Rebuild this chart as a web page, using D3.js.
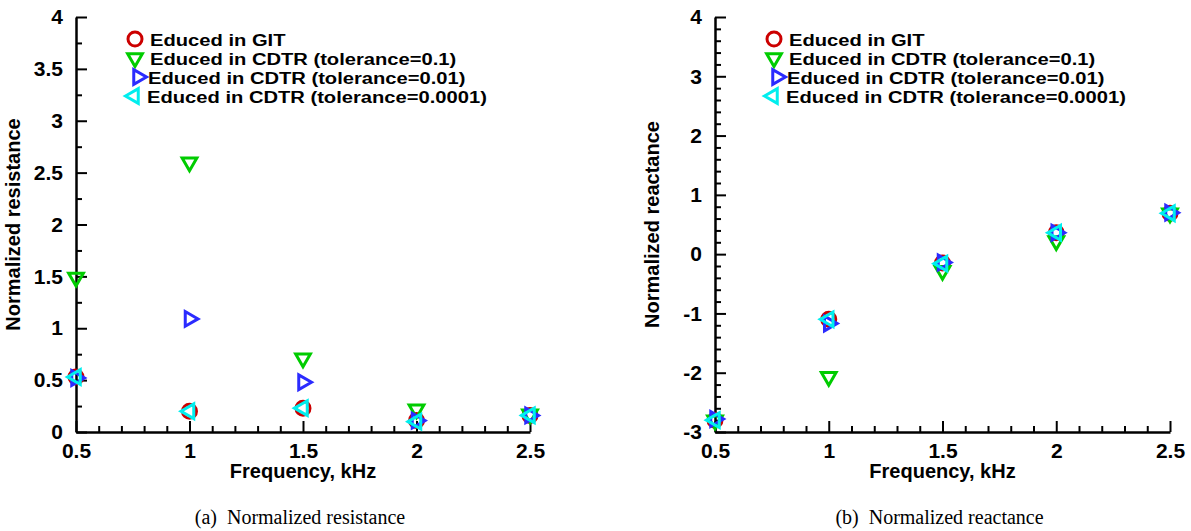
<!DOCTYPE html>
<html>
<head>
<meta charset="utf-8">
<script src="https://cdn.jsdelivr.net/npm/d3@7"></script>
<style>
  html, body { margin: 0; padding: 0; background: #fff; }
  svg { display: block; }
  .lbl { font-family: "Liberation Sans", Arial, sans-serif; font-weight: bold; font-size: 20px; fill: #000; }
  .tkl { font-family: "Liberation Sans", Arial, sans-serif; font-weight: bold; font-size: 21px; fill: #000; }
  .leg { font-family: "Liberation Sans", Arial, sans-serif; font-weight: bold; font-size: 16.8px; fill: #000; }
  .cap { font-family: "Liberation Serif", "Times New Roman", serif; font-size: 20px; fill: #000; white-space: pre; }
</style>
</head>
<body>
<svg id="chart" width="1191" height="531"></svg>
<script>
// ---- data ----
const freq = [0.5, 1.0, 1.5, 2.0, 2.5];
const resGIT      = [0.53, 0.20, 0.23, 0.11, 0.16];
const resTol1     = [1.49, 2.60, 0.71, 0.22, 0.17];
const resTol01    = [0.52, 1.09, 0.48, 0.11, 0.16];
const resTol0001  = [0.53, 0.20, 0.23, 0.10, 0.16];
const reactGIT     = [-2.80, -1.10, -0.15, 0.36, 0.69];
const reactTol1    = [-2.80, -2.07, -0.28, 0.22, 0.69];
const reactTol01   = [-2.78, -1.17, -0.14, 0.36, 0.70];
const reactTol0001 = [-2.80, -1.10, -0.16, 0.36, 0.69];
const seriesNames = ["Educed in GIT", "Educed in CDTR (tolerance=0.1)", "Educed in CDTR (tolerance=0.01)", "Educed in CDTR (tolerance=0.0001)"];
const xTicks = [0.5, 1, 1.5, 2, 2.5];
const xMinor = [0.6,0.7,0.8,0.9,1.1,1.2,1.3,1.4,1.6,1.7,1.8,1.9,2.1,2.2,2.3,2.4];
const yTicksRes = [0, 0.5, 1, 1.5, 2, 2.5, 3, 3.5, 4];
const yMinorRes = [0.25,0.75,1.25,1.75,2.25,2.75,3.25,3.75];
const yTicksReact = [-3, -2, -1, 0, 1, 2, 3, 4];
const yMinorReact = d3.range(-3, 4, 1).flatMap(v => [0.2,0.4,0.6,0.8].map(f => +(v + f).toFixed(1)));
const xTitle = "Frequency, kHz";
const captions = ["(a)  Normalized resistance", "(b)  Normalized reactance"];
const yTitles = ["Normalized resistance", "Normalized reactance"];

const colors = ["#cc0000", "#00cc00", "#2b2bff", "#00eeee"];
const shapes = ["circle", "down", "right", "left"];

const svg = d3.select("#chart");

function triPath(dir, R) {
  const pts = [];
  const base = {down: 90, right: 0, left: 180}[dir];
  for (let i = 0; i < 3; i++) {
    const a = (base + i * 120) * Math.PI / 180;
    pts.push([R * Math.cos(a), R * Math.sin(a)]);
  }
  return "M" + pts.map(p => p[0].toFixed(2) + "," + p[1].toFixed(2)).join("L") + "Z";
}

function marker(g, shape, color, x, y) {
  if (shape === "circle") {
    g.append("circle").attr("cx", x).attr("cy", y).attr("r", 7)
      .attr("fill", "none").attr("stroke", color).attr("stroke-width", 3);
  } else {
    g.append("path").attr("d", triPath(shape, 8.5))
      .attr("transform", `translate(${x},${y})`)
      .attr("fill", "none").attr("stroke", color).attr("stroke-width", 3)
      .attr("stroke-linejoin", "miter");
  }
}

function panel(cfg) {
  const x = d3.scaleLinear().domain([0.5, 2.5]).range([cfg.x0, cfg.x1]);
  const y = d3.scaleLinear().domain(cfg.yDomain).range([432, 17]);
  const g = svg.append("g");

  // minor ticks
  g.append("g").attr("transform", "translate(0,432)")
    .call(d3.axisBottom(x).tickValues(xMinor).tickSizeInner(-6).tickSizeOuter(0).tickFormat(""))
    .call(a => a.select(".domain").remove());
  g.append("g").attr("transform", `translate(${cfg.x0},0)`)
    .call(d3.axisLeft(y).tickValues(cfg.yMinor).tickSizeInner(-6).tickSizeOuter(0).tickFormat(""))
    .call(a => a.select(".domain").remove());

  // major axes
  const xa = g.append("g").attr("transform", "translate(0,432)")
    .call(d3.axisBottom(x).tickValues(xTicks).tickSizeInner(-11).tickSizeOuter(0).tickPadding(11).tickFormat(d => String(d)));
  const ya = g.append("g").attr("transform", `translate(${cfg.x0},0)`)
    .call(d3.axisLeft(y).tickValues(cfg.yTicks).tickSizeInner(-11).tickSizeOuter(0).tickPadding(13).tickFormat(d => String(d)));
  [xa, ya].forEach(a => {
    a.attr("font-size", null).attr("font-family", null);
    a.selectAll("text").attr("class", "tkl");
  });
  g.selectAll(".tick line").attr("stroke", "#000").attr("stroke-width", 2);
  g.selectAll(".domain").attr("stroke", "#000").attr("stroke-width", 2.5);

  // titles
  g.append("text").attr("class", "lbl").attr("text-anchor", "middle")
    .attr("x", (cfg.x0 + cfg.x1) / 2).attr("y", 478).text(xTitle);
  g.append("text").attr("class", "lbl").attr("text-anchor", "middle")
    .attr("transform", `translate(${cfg.x0 - cfg.ytOff},224.5) rotate(-90)`).text(cfg.yTitle);
  g.append("text").attr("class", "cap").attr("text-anchor", "middle")
    .attr("x", (cfg.x0 + cfg.x1) / 2 - 3).attr("y", 524).text(cfg.caption);

  // data marks
  const mg = g.append("g");
  cfg.series.forEach((s, si) => {
    s.forEach((v, i) => marker(mg, shapes[si], colors[si], x(freq[i]), y(v)));
  });

  // legend
  const lg = g.append("g");
  const lx = cfg.x0 + 59;
  const rowsY = [39, 58, 77, 96];
  const mxOff = [0, 0, 3, -1];
  const txOff = [0, 0, -2, -3];
  seriesNames.forEach((name, i) => {
    marker(lg, shapes[i], colors[i], lx + mxOff[i], rowsY[i]);
    const tx = lx + 15 + txOff[i], ty = rowsY[i] + 6.5;
    lg.append("text").attr("class", "leg")
      .attr("transform", `translate(${tx},${ty}) scale(1.2,1)`)
      .text(name);
  });
}

panel({x0: 76, x1: 530, yDomain: [0, 4], yTicks: yTicksRes, yMinor: yMinorRes,
       yTitle: yTitles[0], ytOff: 56, caption: captions[0],
       series: [resGIT, resTol1, resTol01, resTol0001]});
panel({x0: 715, x1: 1170, yDomain: [-3, 4], yTicks: yTicksReact, yMinor: yMinorReact,
       yTitle: yTitles[1], ytOff: 56, caption: captions[1],
       series: [reactGIT, reactTol1, reactTol01, reactTol0001]});
</script>
</body>
</html>
